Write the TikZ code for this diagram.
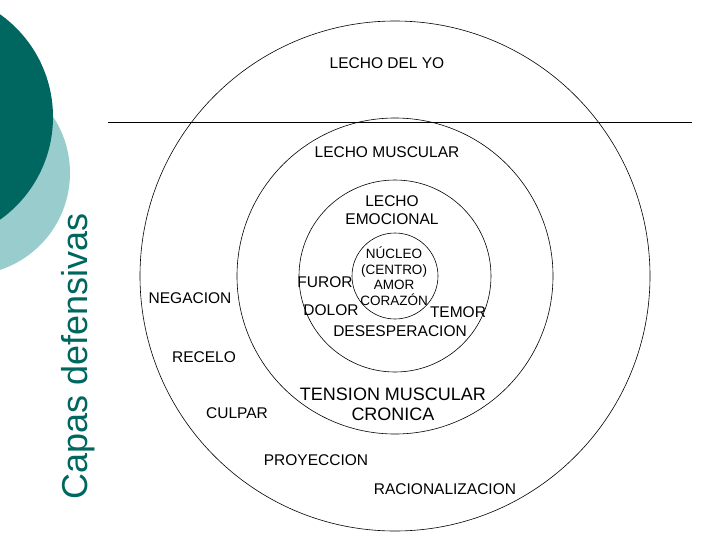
\documentclass[tikz,border=0pt]{standalone}
\usepackage{fontspec}
\setmainfont{Liberation Sans}
\usetikzlibrary{positioning}
\definecolor{tealdark}{RGB}{0,102,96}
\definecolor{teallight}{RGB}{153,204,204}

\begin{document}
\begin{tikzpicture}[x=1pt,y=-1pt,
    layer/.style={font=\fontsize{15.5}{18}\selectfont, align=center, inner sep=0pt},
    core/.style={font=\fontsize{13.5}{15.5}\selectfont, align=center, inner sep=0pt},
    ring/.style={draw=black, line width=0.6pt}]
    \useasboundingbox (0,0) rectangle (728,546);
    \clip (0,0) rectangle (728,546);
    % decoracion izquierda
    \fill[teallight] (-32,173) circle (102);
    \fill[tealdark] (-73,117) circle (126);
    \node[rotate=90, text=tealdark, font=\fontsize{36}{40}\selectfont, inner sep=0pt] (T) at (78,356) {Capas defensivas};
    % capas
    \coordinate (C) at (395,276);
    \draw[ring] (C) circle (255);
    \draw[ring] (C) circle (158);
    \draw[ring] (C) circle (96);
    \draw[ring] (C) circle (43);
    \coordinate (L1) at (108,122);
    \coordinate (L2) at (692,122);
    \draw[line width=0.7pt] (L1) -- (L2);
    % textos
    \node[layer] (yo) at (387,63) {LECHO DEL YO};
    \node[layer] (mus) at (387,152) {LECHO MUSCULAR};
    \node[layer] (emo) at (392,210) {LECHO\\EMOCIONAL};
    \node[core] (nuc) at (394,276) {NÚCLEO\\(CENTRO)\\AMOR\\CORAZÓN};
    \node[layer] (fur) at (325,282) {FUROR};
    \node[layer] (dol) at (331,310) {DOLOR};
    \node[layer] (tem) at (458,312) {TEMOR};
    \node[layer] (des) at (400,331) {DESESPERACION};
    \node[layer] (neg) at (190,298) {NEGACION};
    \node[layer] (rec) at (204,357) {RECELO};
    \node[layer, font=\fontsize{18}{20}\selectfont] (ten) at (393,404) {TENSION MUSCULAR\\CRONICA};
    \node[layer] (cul) at (237,413) {CULPAR};
    \node[layer] (pro) at (316,460) {PROYECCION};
    \node[layer] (rac) at (445,489) {RACIONALIZACION};
\end{tikzpicture}
\end{document}
